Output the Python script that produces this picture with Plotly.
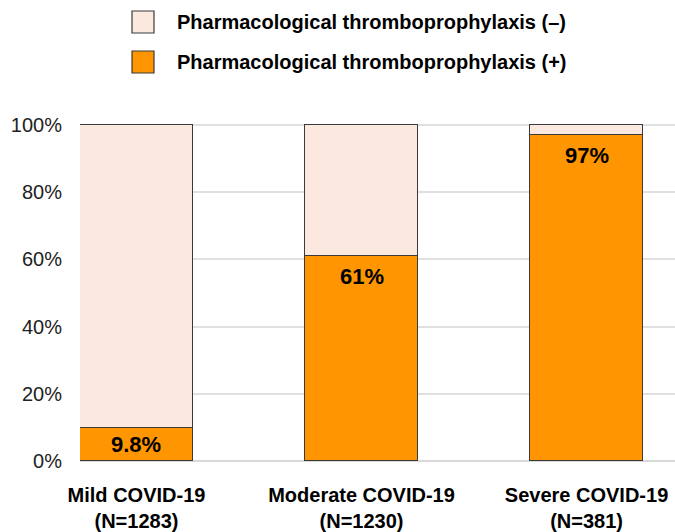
import plotly.graph_objects as go

categories = ["Mild COVID-19", "Moderate COVID-19", "Severe COVID-19"]
n_values = [1283, 1230, 381]
plus_pct = [0.098, 0.61, 0.97]
minus_pct = [1 - v for v in plus_pct]
plus_labels = ["9.8%", "61%", "97%"]
series_names = ["Pharmacological thromboprophylaxis (–)", "Pharmacological thromboprophylaxis (+)"]

ORANGE = "#FF9500"
PEACH = "#FBE9DF"
EDGE = "#3a3a3a"
FONT = "Liberation Sans, Arial, sans-serif"

tick_text = [f"<b>{c}</b><br><b>(N={n})</b>" for c, n in zip(categories, n_values)]
xpos = list(range(len(categories)))

fig = go.Figure()
fig.add_trace(go.Bar(
    x=xpos, y=plus_pct, name=series_names[1], width=0.502,
    marker=dict(color=ORANGE, line=dict(color=EDGE, width=1.2)),
    showlegend=False, hoverinfo="skip",
))
fig.add_trace(go.Bar(
    x=xpos, y=minus_pct, name=series_names[0], width=0.502,
    marker=dict(color=PEACH, line=dict(color=EDGE, width=1.2)),
    showlegend=False, hoverinfo="skip",
))

# value labels inside the orange segments (near the top, or centred if the segment is small)
for xi, v, lab in zip(xpos, plus_pct, plus_labels):
    fig.add_annotation(x=xi, y=max(v - 0.06, v / 2), text=f"<b>{lab}</b>",
                       showarrow=False, xanchor="center", yanchor="middle",
                       font=dict(size=22, color="#000", family=FONT))

# manual legend (large swatches as in the reference)
legend_items = [(series_names[0], PEACH), (series_names[1], ORANGE)]
for i, (name, col) in enumerate(legend_items):
    yc = 22 + i * 40
    fig.add_shape(type="rect", xref="paper", yref="paper",
                  x0=(132 - 80) / 595, x1=(154 - 80) / 595,
                  y0=(532 - 71 - (yc + 11)) / 346, y1=(532 - 71 - (yc - 11)) / 346,
                  fillcolor=col, line=dict(color=EDGE, width=1.2), layer="above")
    fig.add_annotation(xref="paper", yref="paper",
                       x=(175 - 80) / 595, y=(532 - 71 - yc) / 346,
                       xanchor="left", yanchor="middle", showarrow=False,
                       text=f"<b>{name}</b>",
                       font=dict(size=20, color="#000", family=FONT))

fig.update_layout(
    barmode="stack",
    width=675, height=532,
    margin=dict(l=80, r=0, t=115, b=71),
    paper_bgcolor="white", plot_bgcolor="white",
    font=dict(family=FONT, color="#222"),
    bargap=0,
)
fig.update_xaxes(
    range=[-0.251, 2.393], tickmode="array", tickvals=xpos, ticktext=tick_text,
    tickfont=dict(size=20, color="#000", family=FONT),
    showgrid=False, zeroline=False, showline=False, ticks="",
    ticklabelstandoff=20,
)
fig.update_yaxes(
    range=[0, 1.03], tickvals=[0, 0.2, 0.4, 0.6, 0.8, 1.0], tickformat=".0%",
    tickfont=dict(size=20, color="#222", family=FONT),
    showgrid=True, gridcolor="#e0e0e0", gridwidth=1.5,
    zeroline=True, zerolinecolor="#d9d9d9", zerolinewidth=1.5,
    showline=False, ticks="", ticklabelstandoff=17,
)

fig.write_html("out.html", config={"displayModeBar": False},
               post_script="document.body.style.margin='0';")
